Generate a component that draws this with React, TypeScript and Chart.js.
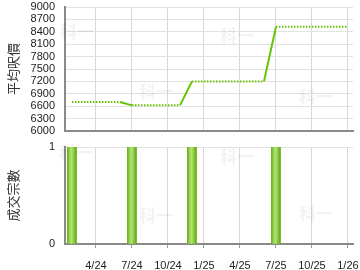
import React, { useEffect, useRef } from "react";
import { Chart, registerables } from "chart.js";

Chart.register(...registerables);

// month index: 0 = Jan 2024
const priceMonths = [1, 2, 3, 4, 5, 6, 7, 8, 9, 10, 11, 12, 13, 14, 15, 16, 17, 18, 19, 20, 21, 22, 23, 24];
const avgPrice = [
  6700, 6700, 6700, 6700, 6700,
  6620, 6620, 6620, 6620, 6620,
  7200, 7200, 7200, 7200, 7200, 7200, 7200,
  8520, 8520, 8520, 8520, 8520, 8520, 8520,
];
const dealMonths = [1, 6, 11, 18];
const dealCounts = [1, 1, 1, 1];
const tickMonths = [3, 6, 9, 12, 15, 18, 21, 24];
const tickLabels = ["4/24", "7/24", "10/24", "1/25", "4/25", "7/25", "10/25", "1/26"];
const priceTitle = "平均呎價";
const dealTitle = "成交宗數";
const watermark = "科一";

const X_MIN = 0.42;
const X_MAX = 24.42;
const FONT = "'Liberation Sans', Arial, 'Noto Sans CJK TC', sans-serif";
const GREEN = "#66c400";

const watermarkPlugin = (spots: [number, number][]) => ({
  id: "wm",
  beforeDatasetsDraw(chart: any) {
    const c = chart.ctx;
    c.save();
    c.font = "bold 17px 'Noto Sans CJK TC', sans-serif";
    c.fillStyle = "rgba(0,0,0,0.05)";
    c.textAlign = "center";
    c.textBaseline = "middle";
    spots.forEach(([x, y]) => c.fillText(watermark, x, y));
    c.restore();
  },
});

const setTicks = (scale: any) => {
  scale.ticks = tickMonths.map((v) => ({ value: v }));
};
const fitX = (h: number) => (s: any) => {
  s.height = h;
  s.paddingLeft = 0;
  s.paddingRight = 0;
  s.paddingTop = 0;
  s.paddingBottom = 0;
};
const fitY = (s: any) => {
  s.width = 65;
  s.paddingLeft = 0;
  s.paddingRight = 0;
  s.paddingTop = 0;
  s.paddingBottom = 0;
};

export default function App() {
  const topRef = useRef<HTMLCanvasElement>(null);
  const botRef = useRef<HTMLCanvasElement>(null);

  useEffect(() => {
    const top = new Chart(topRef.current!, {
      type: "line",
      data: {
        datasets: [
          {
            data: priceMonths.map((m, i) => ({ x: m, y: avgPrice[i] })),
            borderColor: GREEN,
            borderWidth: 2,
            pointRadius: 0,
            fill: false,
            tension: 0,
            segment: {
              borderDash: (ctx: any) => (ctx.p0.parsed.y === ctx.p1.parsed.y ? [1.5, 1.5] : undefined),
            },
          },
        ],
      },
      options: {
        animation: false,
        responsive: false,
        devicePixelRatio: 1,
        layout: { padding: { top: 7, right: 7, left: 0, bottom: 0 } },
        plugins: { legend: { display: false }, tooltip: { enabled: false } },
        scales: {
          x: {
            type: "linear",
            min: X_MIN,
            max: X_MAX,
            afterBuildTicks: setTicks,
            afterFit: fitX(9),
            ticks: { display: false },
            grid: { color: "#d8d8d8", drawTicks: false },
            border: { color: "#8a8a8a", width: 2 },
          },
          y: {
            min: 6000,
            max: 9000,
            afterFit: fitY,
            ticks: {
              stepSize: 300,
              autoSkip: false,
              padding: 10,
              color: "#222",
              font: { family: FONT, size: 11 },
              callback: (v: any) => String(v),
            },
            grid: { color: "#e2e2e2", drawTicks: false },
            border: { color: "#8a8a8a", width: 2 },
            title: { display: true, text: priceTitle, color: "#333", font: { family: FONT, size: 13 }, padding: { top: 7, bottom: 0 } },
          },
        },
      },
      plugins: [watermarkPlugin([[77, 32], [156, 92], [237, 36], [316, 97]])],
    } as any);

    const bot = new Chart(botRef.current!, {
      type: "bar",
      data: {
        datasets: [
          {
            data: dealMonths.map((m, i) => ({ x: m, y: dealCounts[i] })),
            barThickness: 9,
            borderWidth: 0,
            backgroundColor: (ctx: any) => {
              const chart = ctx.chart;
              if (!chart.chartArea || !ctx.raw) return "#8ccc44";
              const px = chart.scales.x.getPixelForValue(ctx.raw.x);
              const g = chart.ctx.createLinearGradient(px - 4.5, 0, px + 4.5, 0);
              g.addColorStop(0, "#5aa800");
              g.addColorStop(0.18, "#8fd04a");
              g.addColorStop(0.45, "#b4e07c");
              g.addColorStop(0.7, "#8ccc44");
              g.addColorStop(1, "#5aa800");
              return g;
            },
          },
        ],
      },
      options: {
        animation: false,
        responsive: false,
        devicePixelRatio: 1,
        layout: { padding: { top: 7, right: 7, left: 0, bottom: 0 } },
        plugins: { legend: { display: false }, tooltip: { enabled: false } },
        scales: {
          x: {
            type: "linear",
            min: X_MIN,
            max: X_MAX,
            offset: false,
            afterBuildTicks: setTicks,
            afterFit: fitX(26),
            ticks: {
              padding: 11,
              color: "#222",
              maxRotation: 0,
              autoSkip: false,
              font: { family: FONT, size: 11 },
              callback: (v: any) => {
                const i = tickMonths.indexOf(Number(v));
                return i >= 0 ? tickLabels[i] : "";
              },
            },
            grid: {
              display: true,
              drawOnChartArea: true,
              lineWidth: 1,
              color: "#d8d8d8",
              offset: false,
              tickLength: 4,
              tickColor: "#999",
            },
            border: { color: "#8a8a8a", width: 2 },
          },
          y: {
            min: 0,
            max: 1,
            afterFit: fitY,
            ticks: { stepSize: 1, padding: 10, color: "#222", font: { family: FONT, size: 11 } },
            grid: { color: "#e2e2e2", drawTicks: false },
            border: { color: "#8a8a8a", width: 2 },
            title: { display: true, text: dealTitle, color: "#333", font: { family: FONT, size: 13 }, padding: { top: 7, bottom: 0 } },
          },
        },
      },
      plugins: [watermarkPlugin([[76, 13], [156, 76], [237, 17], [316, 74]])],
    } as any);

    return () => {
      top.destroy();
      bot.destroy();
    };
  }, []);

  return (
    <div style={{ position: "absolute", left: 0, top: 0, width: 360, height: 270 }}>
      <canvas ref={topRef} width={360} height={140} style={{ position: "absolute", left: 0, top: 0 }} />
      <canvas ref={botRef} width={360} height={130} style={{ position: "absolute", left: 0, top: 140 }} />
    </div>
  );
}
